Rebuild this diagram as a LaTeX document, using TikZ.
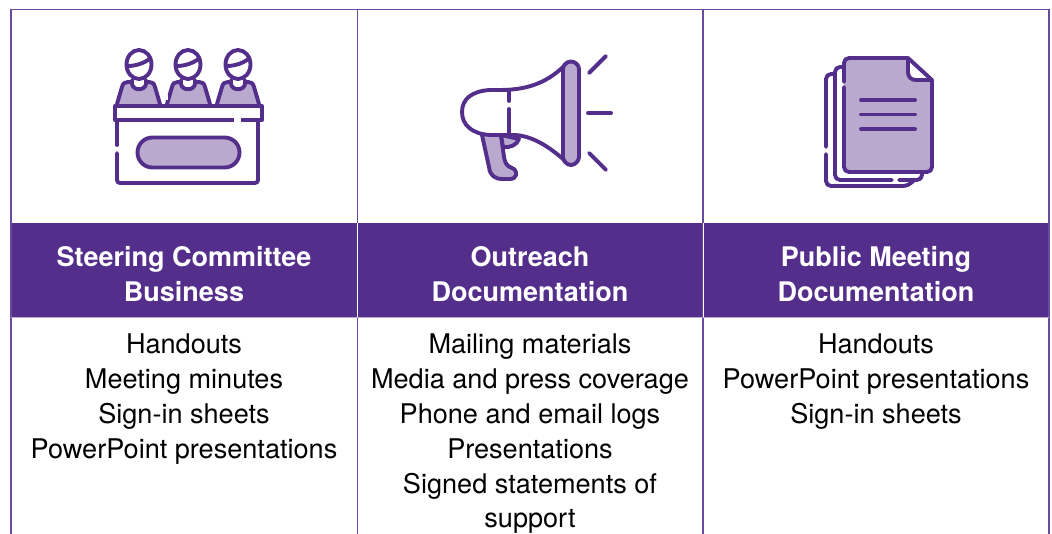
\documentclass[tikz,border=0pt]{standalone}
\usepackage{fontspec}
\setmainfont{TeX Gyre Heros}
\definecolor{pur}{HTML}{532E8B}
\definecolor{lil}{HTML}{B9A9CF}
\definecolor{grid}{HTML}{6A4A9E}
\tikzset{
  ic/.style={draw=pur,line width=3.9pt,line cap=round,line join=round},
  fl/.style={fill=lil},
  bodytext/.style={align=center,text=black,font=\fontsize{27.1}{34.8}\selectfont,anchor=north,inner sep=0pt},
  headtext/.style={align=center,text=white,font=\fontsize{27}{35}\selectfont\bfseries,anchor=center,inner sep=0pt},
  gridline/.style={draw=grid,line width=1.4pt},
}
\begin{document}
\begin{tikzpicture}[x=1pt,y=-1pt]
\useasboundingbox (0,0) rectangle (1052,534);
\clip (0,0) rectangle (1052,534);
% header band
\fill[pur] (11,223) rectangle (1049,317);
% grid
\draw[gridline] (11,534) -- (11,9.5) -- (1049,9.5) -- (1049,534);
\draw[gridline] (357.5,9) -- (357.5,534);
\draw[gridline] (703,9) -- (703,534);
\draw[draw=white,line width=.8pt] (357.5,223) -- (357.5,317);
\draw[draw=white,line width=.8pt] (703,223) -- (703,317);
\draw[draw=lil,line width=1pt] (11,317.5) -- (1049,317.5);
% headers
\node[headtext] (h1) at (184,274.5) {Steering Committee\\Business};
\node[headtext] (h2) at (530,274.5) {Outreach\\Documentation};
\node[headtext] (h3) at (876,274.5) {Public Meeting\\Documentation};
% bodies
\node[bodytext] (b1) at (184,334) {Handouts\\Meeting minutes\\Sign-in sheets\\PowerPoint presentations};
\node[bodytext] (b2) at (530,334) {Mailing materials\\Media and press coverage\\Phone and email logs\\Presentations\\Signed statements of\\support};
\node[bodytext] (b3) at (876,334) {Handouts\\PowerPoint presentations\\Sign-in sheets};
% icon 1: committee
\foreach \c/\lx/\rx in {139/117/160,188/167/210,238/217/259}{
  \path[ic,fl] (\lx,104) -- (\lx+5,87) .. controls (\lx+6,83) and (\lx+8,82) .. (\lx+11,82) -- (\rx-11,82) .. controls (\rx-8,82) and (\rx-6,83) .. (\rx-5,87) -- (\rx,104);
  \fill[white] (\c-7,80) -- (\c+7,80) -- (\c+6,86) .. controls (\c+3,91) and (\c-3,91) .. (\c-6,86) -- cycle;
  \draw[ic] (\c-7,80) -- (\c-7,84) .. controls (\c-6,91) and (\c+6,91) .. (\c+7,84) -- (\c+7,80);
  \draw[ic,fill=white] (\c,64.5) ellipse [x radius=12.5pt,y radius=14.5pt];
  \draw[ic] (\c-11.5,66) .. controls (\c-3,66) and (\c+6,63) .. (\c+11.5,58);
}
\fill[white] (163,84) rectangle (169,90);
\fill[white] (165,95) rectangle (168,100);
\draw[ic,fill=white] (115,106) rectangle (262,120);
\draw[ic,rounded corners=2pt] (117,122) -- (117,145);
\draw[ic,rounded corners=3pt] (117,153) -- (117,183) -- (258,183) -- (258,122);
\fill[white] (233.5,118) rectangle (241,122.5);
\draw[ic,fl,rounded corners=14.9pt] (137.5,137.5) rectangle (239.5,167.5);
% icon 2: megaphone
\draw[ic,fl] (482,135) -- (489,167) .. controls (490,176) and (495,179) .. (503,179) -- (510,179) .. controls (517,179) and (519,171) .. (512,168) .. controls (506,166) and (505,162) .. (504,157) -- (501,135);
\draw[ic,fl] (503,147) .. controls (510,148) and (517,145) .. (519,139) -- (501,135) -- cycle;
\draw[ic,fill=white] (563,67) .. controls (545,84) and (525,90) .. (500,90) -- (490,90) .. controls (472,91) and (462,99) .. (462,112) .. controls (462,125) and (472,134) .. (490,135) -- (515,135) .. controls (532,136) and (548,146) .. (563,159);
\draw[draw=white,line width=4pt] (509,103) -- (509,107);
\draw[ic,fl] (571,61.5) .. controls (575,61.5) and (579,65) .. (579,69) -- (579,157) .. controls (579,161) and (575,165) .. (571,165) .. controls (567,165) and (563,161) .. (563,157) -- (563,69) .. controls (563,65) and (567,61.5) .. (571,61.5) -- cycle;
\draw[ic] (509,91) -- (509,101);
\draw[ic] (509,109) -- (509,134);
\draw[ic] (589,73) -- (606,56);
\draw[ic] (588,113) -- (611,113);
\draw[ic] (589,153) -- (606,170);
% icon 3: documents
\draw[ic,rounded corners=5pt] (826,147) -- (826,74) -- (835,74);
\draw[ic,rounded corners=5pt] (826,154) -- (826,186) -- (908,186) -- (914,180);
\draw[ic,rounded corners=5pt] (835,90) -- (835,67) -- (844,67);
\draw[ic,rounded corners=5pt] (835,90) -- (835,180) -- (892,180);
\draw[ic,rounded corners=5pt] (899,180) -- (922,180) -- (922,172);
\fill[lil,rounded corners=5pt] (844,172) -- (844,58) -- (908,58) -- (932,80) -- (932,172) -- cycle;
\fill[white] (908,58) -- (908,72) .. controls (908,77) and (911,80) .. (916,80) -- (932,80) -- cycle;
\draw[ic,rounded corners=5pt] (844,82) -- (844,58) -- (908,58);
\draw[ic,rounded corners=5pt] (844,87) -- (844,172) -- (932,172) -- (932,80);
\draw[ic] (908,58) -- (932,80);
\draw[ic] (908,58) -- (908,72) .. controls (908,77) and (911,80) .. (916,80) -- (932,80);
\draw[ic] (861,100) -- (915,100);
\draw[ic] (861,114.5) -- (915,114.5);
\draw[ic] (861,129) -- (915,129);
\end{tikzpicture}
\end{document}
